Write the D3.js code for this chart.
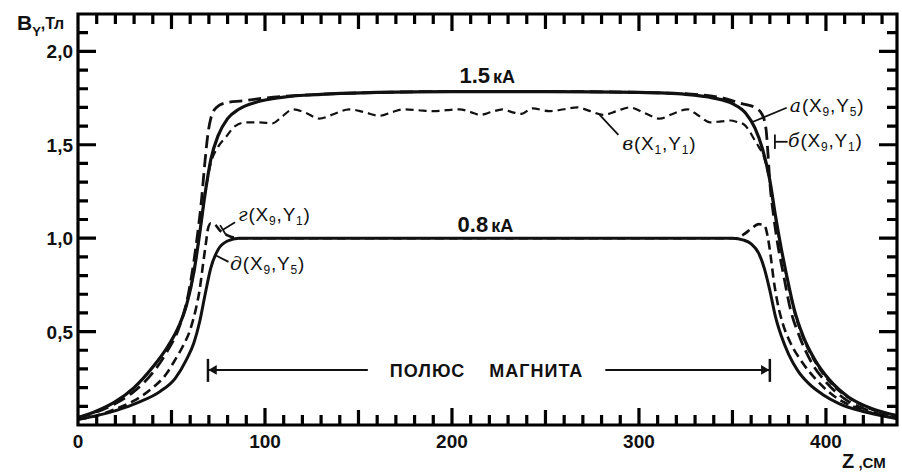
<!DOCTYPE html>
<html><head><meta charset="utf-8">
<script src="https://cdn.jsdelivr.net/npm/d3@7"></script>
<style>
body{margin:0;background:#fff;}
svg{display:block;}
text{font-family:"Liberation Sans",Arial,sans-serif;fill:#111;}
</style></head>
<body>
<svg id="c" width="902" height="475"></svg>
<script>
// ---- data (z in cm, B in T) ----
const xTicksMajor = [0,100,200,300,400];
const yTicksMajor = [0.5,1.0,1.5,2.0];

// а(X9,Y5) 1.5 kA, solid
const curveA = [[0,0.04],[10,0.075],[20,0.125],[30,0.2],[40,0.31],[48,0.42],[54,0.53],[58,0.64],[62,0.82],[65,1.02],[68,1.24],[71,1.42],[75,1.55],[80,1.64],[86,1.69],[96,1.73],[110,1.755],[130,1.77],[160,1.78],[200,1.785],[250,1.785],[300,1.78],[325,1.77],[340,1.75],[350,1.72],[357,1.67],[362,1.59],[366,1.48],[370,1.31],[373,1.12],[376,0.95],[379,0.8],[383,0.62],[388,0.47],[394,0.35],[402,0.24],[412,0.15],[424,0.09],[438,0.05]];
// б(X9,Y1) 1.5 kA, long dashes
const curveB = [[0,0.04],[10,0.07],[20,0.115],[30,0.18],[40,0.28],[48,0.4],[54,0.52],[59,0.7],[63,0.95],[66,1.2],[68,1.42],[69.5,1.56],[71,1.64],[74,1.7],[79,1.725],[88,1.735],[100,1.75],[130,1.77],[160,1.78],[200,1.785],[250,1.785],[300,1.78],[330,1.77],[345,1.75],[355,1.72],[362,1.7],[366,1.66],[368,1.58],[369,1.45],[370,1.3],[372,1.12],[374,0.98],[377,0.82],[381,0.62],[386,0.47],[392,0.34],[400,0.23],[410,0.14],[422,0.08],[438,0.04]];
// в(X1,Y1) 1.5 kA, short dashes
const curveV = [[0,0.04],[10,0.075],[20,0.125],[30,0.2],[40,0.31],[48,0.42],[54,0.53],[58,0.64],[62,0.82],[65,1.02],[68,1.24],[71,1.4],[75,1.49],[79,1.54],[84,1.6],[90,1.62],[97,1.62],[104,1.615],[109,1.65],[115,1.69],[122,1.67],[129,1.64],[137,1.665],[145,1.69],[153,1.675],[161,1.655],[168,1.675],[174,1.69],[182,1.685],[190,1.68],[197,1.685],[204,1.69],[210,1.675],[215,1.66],[221,1.675],[227,1.69],[232,1.675],[237,1.665],[243,1.695],[252,1.68],[260,1.69],[267,1.7],[274,1.68],[281,1.66],[288,1.68],[295,1.7],[303,1.67],[311,1.64],[318,1.665],[326,1.69],[332,1.655],[338,1.62],[344,1.625],[349,1.63],[353,1.62],[356,1.61],[359,1.575],[361,1.54],[364,1.49],[367,1.43],[370,1.3],[373,1.11],[376,0.94],[379,0.79],[383,0.61],[388,0.46],[394,0.34],[402,0.23],[412,0.145],[424,0.085],[438,0.045]];
// г(X9,Y1) 0.8 kA, dashes
const curveG = [[0,0.03],[10,0.05],[20,0.085],[30,0.13],[40,0.2],[47,0.27],[52,0.35],[56,0.42],[60,0.51],[63,0.62],[65,0.72],[67,0.87],[68.5,0.98],[69.5,1.05],[71,1.08],[73,1.075],[76,1.04],[80,1.015],[86,1.0],[120,1.0],[200,1.0],[300,1.0],[352,1.0],[356,1.02],[360,1.05],[364,1.075],[367,1.07],[369,1.0],[370.5,0.9],[372,0.78],[374,0.66],[377,0.54],[381,0.44],[387,0.34],[395,0.24],[405,0.15],[417,0.09],[428,0.055],[438,0.035]];
// д(X9,Y5) 0.8 kA, solid
const curveD = [[0,0.03],[10,0.05],[21,0.08],[32,0.12],[44,0.18],[52,0.25],[58,0.35],[62,0.44],[65,0.55],[68,0.7],[71,0.84],[75,0.94],[80,0.985],[86,1.0],[120,1.0],[200,1.0],[300,1.0],[350,1.0],[356,0.99],[360,0.97],[364,0.92],[367,0.84],[370,0.72],[373,0.58],[376,0.48],[380,0.38],[385,0.29],[391,0.22],[398,0.165],[407,0.115],[419,0.075],[430,0.05],[438,0.035]];

const svg = d3.select("#c");
const x = d3.scaleLinear().domain([0,438]).range([78,897]);
const y = d3.scaleLinear().domain([0,2.2]).range([425,14]);
const X0 = x.domain()[0], X1 = x.domain()[1], Y0 = y.domain()[0], Y1 = y.domain()[1];

// tick labels
svg.selectAll("text.xl").data(xTicksMajor).enter().append("text").attr("class","xl")
  .attr("x",d=>x(d)).attr("y",y(Y0)+23).attr("text-anchor","middle")
  .attr("font-size",19).attr("font-weight","bold").text(d=>d3.format("d")(d));
svg.selectAll("text.ylab").data(yTicksMajor).enter().append("text").attr("class","ylab")
  .attr("x",x(X0)-5).attr("y",d=>y(d)+7).attr("text-anchor","end")
  .attr("font-size",19).attr("font-weight","bold").text(d=>d.toFixed(1).replace(".",","));

// axis titles
const tB = svg.append("text").attr("x",17).attr("y",30).attr("font-weight","bold");
tB.append("tspan").attr("font-size",21).text("B");
tB.append("tspan").attr("font-size",13).attr("dy",6).text("Y");
tB.append("tspan").attr("font-size",16).attr("dy",-7).text(",Тл");
const tZ = svg.append("text").attr("x",842).attr("y",468).attr("font-weight","bold");
tZ.append("tspan").attr("font-size",20).text("Z");
tZ.append("tspan").attr("font-size",15).text(" ,СМ");

// curves
const line = d3.line().x(d=>x(d[0])).y(d=>y(d[1])).curve(d3.curveMonotoneX);
const series = [
  {d:curveV, w:2.2, dash:"8,5"},
  {d:curveG, w:2.6, dash:"9,5"},
  {d:curveB, w:2.8, dash:"13,6"},
  {d:curveD, w:3, dash:null},
  {d:curveA, w:3.2, dash:null}
];
series.forEach(s=>{
  const p = svg.append("path").attr("d",line(s.d)).attr("fill","none").attr("stroke","#111")
    .attr("stroke-width",s.w).attr("stroke-linecap","butt").attr("stroke-linejoin","round");
  if(s.dash) p.attr("stroke-dasharray",s.dash);
});

// current labels
function currentLabel(z,b,num){
  const t = svg.append("text").attr("x",x(z)).attr("y",y(b)).attr("font-weight","bold");
  t.append("tspan").attr("font-size",22).text(num);
  t.append("tspan").attr("font-size",18).attr("dx",3).text("кА");
}
currentLabel(204,1.832,"1.5");
currentLabel(203,1.034,"0.8");

// curve annotations
const annotations = [
  {z:380.7,b:1.676,letter:"а",s1:"9",s2:"5",lead:[[361,1.623],[379,1.698]]},
  {z:379.7,b:1.489,letter:"б",s1:"9",s2:"1",lead:[[372.7,1.516],[379.5,1.516]],tick:[[372.7,1.555],[372.7,1.478]]},
  {z:291,b:1.473,letter:"в",s1:"1",s2:"1",lead:[[279,1.66],[289,1.553]]},
  {z:85.6,b:1.093,letter:"г",s1:"9",s2:"1",lead:[[77.5,1.045],[84,1.085]],tick:[[76,1.07],[79,1.02]]},
  {z:81.3,b:0.83,letter:"д",s1:"9",s2:"5",lead:[[73.3,0.91],[80.5,0.873]]}
];
annotations.forEach(a=>{
  const t = svg.append("text").attr("x",x(a.z)).attr("y",y(a.b)).attr("font-size",19)
    .attr("font-family","DejaVu Sans, sans-serif").attr("letter-spacing",0.8);
  t.append("tspan").attr("font-style","italic").attr("font-family","DejaVu Serif, serif").text(a.letter);
  t.append("tspan").text("(X");
  t.append("tspan").attr("font-size",12).attr("dy",4).text(a.s1);
  t.append("tspan").attr("dy",-4).text(",Y");
  t.append("tspan").attr("font-size",12).attr("dy",4).text(a.s2);
  t.append("tspan").attr("dy",-4).text(")");
  const ll = d3.line().x(d=>x(d[0])).y(d=>y(d[1]));
  svg.append("path").attr("d",ll(a.lead)).attr("stroke","#111").attr("stroke-width",1.8).attr("fill","none");
  if(a.tick) svg.append("path").attr("d",ll(a.tick)).attr("stroke","#111").attr("stroke-width",1.8).attr("fill","none");
});

// pole span
const pole = [69.5, 370];
const poleB = 0.295;
const poleTextGap = [155, 282];
const py = y(poleB);
const pg = svg.append("g").attr("stroke","#111");
pg.append("line").attr("x1",x(pole[0])).attr("x2",x(pole[0])).attr("y1",py-11).attr("y2",py+12).attr("stroke-width",2.5);
pg.append("line").attr("x1",x(pole[1])).attr("x2",x(pole[1])).attr("y1",py-11).attr("y2",py+12).attr("stroke-width",2.5);
pg.append("line").attr("x1",x(pole[0])).attr("x2",x(poleTextGap[0])).attr("y1",py).attr("y2",py).attr("stroke-width",2);
pg.append("line").attr("x1",x(poleTextGap[1])).attr("x2",x(pole[1])).attr("y1",py).attr("y2",py).attr("stroke-width",2);
const ah = d3.symbol().type(d3.symbolTriangle).size(40);
svg.append("path").attr("d",ah()).attr("transform",`translate(${x(pole[0])+6},${py}) rotate(-90)`).attr("fill","#111");
svg.append("path").attr("d",ah()).attr("transform",`translate(${x(pole[1])-6},${py}) rotate(90)`).attr("fill","#111");
svg.append("text").attr("x",x((poleTextGap[0]+poleTextGap[1])/2)).attr("y",py+7).attr("text-anchor","middle")
  .attr("font-size",18).attr("font-weight","bold").attr("letter-spacing",1).attr("xml:space","preserve").text("ПОЛЮС    МАГНИТА");

// frame + inward ticks on all four sides, drawn last as one path
const xTickVals = d3.range(10,438,10);
const xLen = v => v%100===0 ? 17 : (v%50===0 ? 15 : 10);
const yTickVals = d3.range(1,22).map(v=>v/10);
const yLen = v => Math.round(v*10)%5===0 ? 18 : 10;
const p = d3.path();
p.moveTo(x(X0),y(Y1)); p.lineTo(x(X1),y(Y1)); p.lineTo(x(X1),y(Y0)); p.lineTo(x(X0),y(Y0)); p.closePath();
xTickVals.forEach(v=>{
  p.moveTo(x(v),y(Y0)); p.lineTo(x(v),y(Y0)-xLen(v));
  p.moveTo(x(v),y(Y1)); p.lineTo(x(v),y(Y1)+xLen(v));
});
yTickVals.forEach(v=>{
  p.moveTo(x(X0),y(v)); p.lineTo(x(X0)+yLen(v),y(v));
  p.moveTo(x(X1),y(v)); p.lineTo(x(X1)-yLen(v),y(v));
});
svg.append("path").attr("d",p.toString()).attr("fill","none").attr("stroke","#000")
  .attr("stroke-width",3.2).attr("stroke-linecap","butt");
</script>
</body></html>
